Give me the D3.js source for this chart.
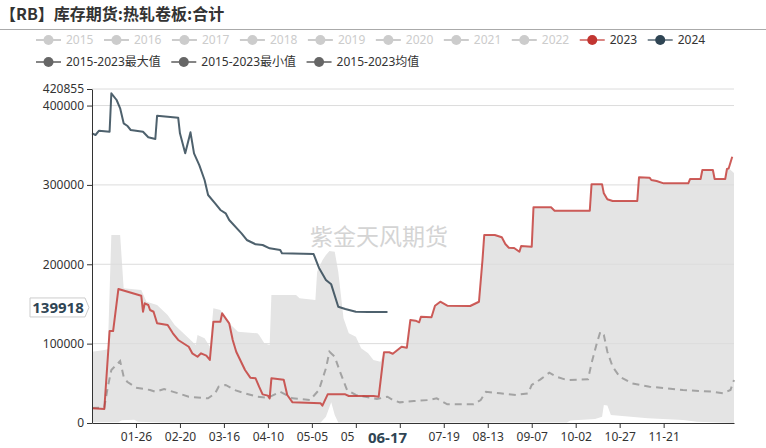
<!DOCTYPE html>
<html>
<head>
<meta charset="utf-8">
<script src="https://cdn.jsdelivr.net/npm/d3@7/dist/d3.min.js"></script>
<style>
  html, body { margin: 0; padding: 0; background: #fff; }
  svg { display: block; font-family: "Noto Sans", "Noto Sans CJK SC", sans-serif; }
</style>
</head>
<body>
<svg id="chart" width="766" height="448"></svg>
<script>
// ---------------- DATA ----------------
const title = "【RB】库存期货:热轧卷板:合计";
const watermark = "紫金天风期货";
const yTicks = [0, 100000, 200000, 300000, 400000, 420855];
const xTickLabels = ["01-26","02-20","03-16","04-10","05-05","05-30","06-24","07-19","08-13","09-07","10-02","10-27","11-21"];
const legendYears = ["2015","2016","2017","2018","2019","2020","2021","2022","2023","2024"];
const legendStats = ["2015-2023最大值","2015-2023最小值","2015-2023均值"];
const pointerDate = "06-17";
const pointerValue = 139918;

// 2015-2023 max (top of grey band)
const maxSeries = [
  ["01-01",89800],["01-08",92000],["01-10",93000],["01-12",236900],["01-17",236900],["01-19",169700],
  ["01-29",167600],["02-01",152800],["02-07",148700],["02-13",136100],["02-17",123500],["02-25",106700],
  ["02-29",98300],["03-01",110900],["03-05",106700],["03-08",96100],["03-10",144500],["03-14",142400],
  ["03-20",123500],["03-24",115000],["04-04",113000],["04-05",110900],["04-08",100400],["04-11",98300],
  ["04-12",161300],["04-26",161300],["04-28",157100],["05-07",155000],["05-08",190600],["05-11",205000],
  ["05-13",211700],["05-15",216700],["05-18",215800],["05-20",190600],["05-23",131900],["05-26",113000],
  ["05-30",108700],["06-02",94100],["06-06",87800],["06-09",79400],["06-13",77200],["06-15",89100],
  ["06-18",89100],["06-20",87300],["06-25",96100],["06-28",94900],["06-30",129800],["07-03",128900],
  ["07-05",126900],["07-06",133900],["07-12",133200],["07-14",147800],["07-17",152800],["07-21",147800],
  ["08-03",147400],["08-08",152800],["08-10",205400],["08-11",236900],["08-17",236900],["08-21",234000],
  ["08-23",225500],["08-25",220900],["08-28",220500],["08-31",215800],["09-01",223000],["09-07",222200],
  ["09-08",271800],["09-18",271800],["09-20",267500],["10-10",267500],["10-11",300700],["10-17",300700],
  ["10-18",289400],["10-20",281900],["10-23",279700],["11-06",279700],["11-07",309600],["11-13",309100],
  ["11-14",306200],["11-17",304900],["11-21",302000],["12-05",302000],["12-06",307400],["12-12",307400],
  ["12-13",318800],["12-19",318800],["12-20",307400],["12-26",307400],["12-27",320000],["12-28",320900],
  ["12-31",315000]
];
// 2015-2023 min (bottom of grey band)
const minSeries = [
  ["01-01",1000],["01-16",1000],["01-18",3500],["01-25",4000],["01-27",1500],["02-10",500],
  ["05-10",500],["05-13",8000],["05-16",26000],["05-18",10000],["05-20",500],["09-27",500],
  ["09-29",3000],["10-13",5000],["10-17",8000],["10-18",22700],["10-20",22000],["10-22",10000],
  ["11-12",5900],["12-02",3800],["12-10",1700],["12-31",0]
];
// 2015-2023 mean
const meanSeries = [
  ["01-01",19000],["01-08",19500],["01-10",45700],["01-12",66800],["01-17",78100],["01-19",58300],
  ["01-21",52000],["01-26",44500],["02-03",41600],["02-06",39400],["02-11",42800],["02-19",37400],
  ["02-25",33100],["03-07",31100],["03-11",37400],["03-13",45700],["03-17",47900],["03-22",41600],
  ["03-28",37400],["04-04",33100],["04-10",31900],["04-17",39400],["04-24",31100],["05-04",29000],
  ["05-09",41600],["05-13",68900],["05-15",89800],["05-18",83500],["05-21",64600],["05-25",41600],
  ["05-30",35300],["06-07",31900],["06-11",30200],["06-17",33100],["06-20",29000],["06-24",26000],
  ["07-02",27700],["07-11",29000],["07-15",31100],["07-21",23500],["08-05",23500],["08-09",29000],
  ["08-12",39400],["08-20",37400],["08-29",35300],["09-05",37400],["09-07",47900],["09-12",55000],
  ["09-17",63400],["09-21",58300],["09-27",54200],["10-09",55000],["10-11",75200],["10-14",100400],
  ["10-16",115000],["10-18",110900],["10-20",89800],["10-23",70900],["10-27",58300],["11-03",50000],
  ["11-13",45700],["11-23",43700],["12-02",41600],["12-19",39400],["12-25",37400],["12-29",41600],
  ["12-31",54200]
];
// 2023
const series2023 = [
  ["01-01",18500],["01-08",17600],["01-11",115900],["01-13",115900],["01-16",168800],["01-29",160400],
  ["01-30",140200],["01-31",150800],["02-02",148700],["02-03",142400],["02-05",140200],["02-07",125600],
  ["02-13",123500],["02-16",113000],["02-19",104600],["02-25",96100],["02-27",87800],["03-01",83500],
  ["03-03",87800],["03-06",84800],["03-08",79400],["03-10",127600],["03-14",127600],["03-15",138200],
  ["03-19",125600],["03-21",104600],["03-23",89800],["03-28",66800],["03-31",57100],["04-03",56300],
  ["04-05",45800],["04-07",36100],["04-10",34500],["04-11",31000],["04-12",56300],["04-19",54600],
  ["04-21",35300],["04-24",26000],["05-10",24800],["05-11",21800],["05-14",36100],["05-24",36100],
  ["05-26",34000],["06-09",34000],["06-12",33100],["06-15",89100],["06-18",89100],["06-20",87300],
  ["06-25",96100],["06-28",94900],["06-30",129800],["07-03",128900],["07-05",126900],["07-06",133900],
  ["07-12",133200],["07-14",147800],["07-17",152800],["07-21",147800],["08-03",147400],["08-08",152800],
  ["08-10",205400],["08-11",236900],["08-17",236900],["08-21",234000],["08-23",225500],["08-25",220900],
  ["08-28",220500],["08-31",215800],["09-01",223000],["09-07",222200],["09-08",271800],["09-18",271800],
  ["09-20",267500],["10-10",267500],["10-11",300700],["10-17",300700],["10-18",289400],["10-20",281900],
  ["10-23",279700],["11-06",279700],["11-07",309600],["11-13",309100],["11-14",306200],["11-17",304900],
  ["11-21",302000],["12-05",302000],["12-06",307400],["12-12",307400],["12-13",318800],["12-19",318800],
  ["12-20",307400],["12-26",307400],["12-27",320000],["12-28",320900],["12-30",335500]
];
// 2024
const series2024 = [
  ["01-01",365000],["01-03",362900],["01-05",368300],["01-11",367000],["01-12",415400],["01-15",407000],
  ["01-17",396500],["01-19",377600],["01-21",374600],["01-23",369200],["01-30",367000],["02-02",360000],
  ["02-06",357800],["02-07",387200],["02-19",384700],["02-20",365000],["02-23",339800],["02-26",366300],
  ["02-28",339800],["03-02",325000],["03-05",306200],["03-07",287300],["03-11",276800],["03-14",268400],
  ["03-17",264200],["03-19",255800],["03-26",239000],["03-29",230600],["04-03",225200],["04-07",224300],
  ["04-11",220100],["04-17",218000],["04-18",213800],["05-06",212900],["05-09",195700],["05-13",180200],
  ["05-16",174700],["05-20",146500],["05-24",143600],["05-30",140200],["06-06",140000],["06-17",139918]
];

// category axis: every calendar day
const fmt = d3.timeFormat("%m-%d");
const categories = d3.timeDay.range(new Date(2024,0,1), new Date(2025,0,1)).map(fmt);

// ---------------- LAYOUT ----------------
const svg = d3.select("#chart");
const L = 92, R = 734, T = 89, B = 423;
const x = d3.scalePoint().domain(categories).range([L, R]);
const y = d3.scaleLinear().domain([0, 420855]).range([B, T]);

const COL23 = "#c23531", COL24 = "#2f4554";

// title
svg.append("text").attr("x", 0).attr("y", 20)
  .attr("font-size", 16).attr("font-weight", "bold").attr("fill", "#333")
  .attr("font-family", "'Noto Sans CJK SC', sans-serif")
  .text(title);
svg.append("line").attr("x1", 0).attr("x2", 766).attr("y1", 29.5).attr("y2", 29.5)
  .attr("stroke", "#aaa").attr("stroke-width", 1);

// legend
function legendRow(items, cy) {
  let lx = 36;
  items.forEach(it => {
    const g = svg.append("g");
    g.append("line").attr("x1", lx).attr("x2", lx + 25).attr("y1", cy).attr("y2", cy)
      .attr("stroke", it.color).attr("stroke-width", 2).attr("stroke-opacity", it.lineOpacity);
    g.append("circle").attr("cx", lx + 12.5).attr("cy", cy).attr("r", 5).attr("fill", it.color);
    const t = g.append("text").attr("x", lx + 30).attr("y", cy).attr("dy", "0.35em")
      .attr("font-size", 12).attr("fill", it.textColor).text(it.name);
    lx += 30 + t.node().getComputedTextLength() + 10.5;
  });
}
legendRow(legendYears.map(n => {
  if (n === "2023") return {name: n, color: COL23, lineOpacity: 0.6, textColor: "#333"};
  if (n === "2024") return {name: n, color: COL24, lineOpacity: 0.6, textColor: "#333"};
  return {name: n, color: "#ccc", lineOpacity: 1, textColor: "#ccc"};
}), 40);
legendRow(legendStats.map(n => ({name: n, color: "#666", lineOpacity: 0.8, textColor: "#333"})), 62);

// grey band: max area then white min area
const area = d3.area().x(d => x(d[0])).y0(y(0)).y1(d => y(d[1]));
svg.append("path").datum(maxSeries).attr("d", area).attr("fill", "#e4e4e4");
svg.append("path").datum(minSeries).attr("d", area).attr("fill", "#fff");

// gridlines
svg.append("g").selectAll("line").data(yTicks.filter(v => v > 0)).join("line")
  .attr("x1", L).attr("x2", R).attr("y1", d => y(d)).attr("y2", d => y(d))
  .attr("stroke", "#dcdcdc").attr("stroke-width", 1);

// watermark
svg.append("text").attr("x", 379).attr("y", 245).attr("text-anchor", "middle")
  .attr("font-size", 23).attr("fill", "#d4d4d4")
  .attr("font-family", "'Noto Sans CJK SC', sans-serif")
  .text(watermark);

const line = d3.line().x(d => x(d[0])).y(d => y(d[1]));
svg.append("path").datum(meanSeries).attr("d", line).attr("fill", "none")
  .attr("stroke", "#a3a3a3").attr("stroke-width", 2).attr("stroke-dasharray", "7,5");
svg.append("path").datum(series2023).attr("d", line).attr("fill", "none")
  .attr("stroke", COL23).attr("stroke-opacity", 0.8).attr("stroke-width", 2).attr("stroke-linejoin", "round");
svg.append("path").datum(series2024).attr("d", line).attr("fill", "none")
  .attr("stroke", COL24).attr("stroke-opacity", 0.85).attr("stroke-width", 2).attr("stroke-linejoin", "round");

// axes
const yAxis = svg.append("g").attr("transform", `translate(${L},0)`)
  .call(d3.axisLeft(y).tickValues(yTicks).tickFormat(d3.format("d")).tickSize(5).tickSizeOuter(0).tickPadding(3));
const xAxis = svg.append("g").attr("transform", `translate(0,${B})`)
  .call(d3.axisBottom(x).tickValues(xTickLabels).tickSize(5).tickSizeOuter(0).tickPadding(4));
[yAxis, xAxis].forEach(a => {
  a.selectAll("path,line").attr("stroke", "#333");
  a.selectAll("text").attr("fill", "#333").attr("font-size", 12)
    .attr("font-family", "'Noto Sans', sans-serif");
});

// axis pointer labels
const px = x(pointerDate);
const boxLeft = px - 33;
// tick labels fully hidden under the pointer label are not drawn
xAxis.selectAll(".tick text").filter(d => Math.abs(x(d) - px) < 20).remove();
// partially covered label is clipped at the pointer box edge (clip in tick-local coords)
const defs = svg.append("defs");
xAxis.selectAll(".tick").filter(d => Math.abs(x(d) - px) >= 20 && Math.abs(x(d) - px) < 50)
  .each(function(d, i) {
    const id = "xclip" + i;
    defs.append("clipPath").attr("id", id)
      .append("rect").attr("x", -60).attr("y", 0)
      .attr("width", boxLeft - x(d) + 60).attr("height", 30);
    d3.select(this).select("text").attr("clip-path", `url(#${id})`);
  });

const xl = svg.append("g");
xl.append("rect").attr("x", boxLeft).attr("y", B + 5).attr("width", 66).attr("height", 22).attr("fill", "#fff");
xl.append("text").attr("x", px).attr("y", 442.5).attr("text-anchor", "middle")
  .attr("font-size", 15).attr("font-weight", "bold").attr("fill", COL24).text(pointerDate);

const py = y(pointerValue) - 4.5;
const yl = svg.append("g");
yl.append("path")
  .attr("d", `M30,${py-9.5} H85 L89,${py} L85,${py+9.5} H30 Z`)
  .attr("fill", "#fff").attr("stroke", "#ccc").attr("stroke-width", 1);
yl.append("text").attr("x", 58).attr("y", py).attr("dy", "0.35em").attr("text-anchor", "middle")
  .attr("font-size", 15).attr("font-weight", "bold").attr("fill", COL24)
  .text(d3.format("d")(pointerValue));
</script>
</body>
</html>
